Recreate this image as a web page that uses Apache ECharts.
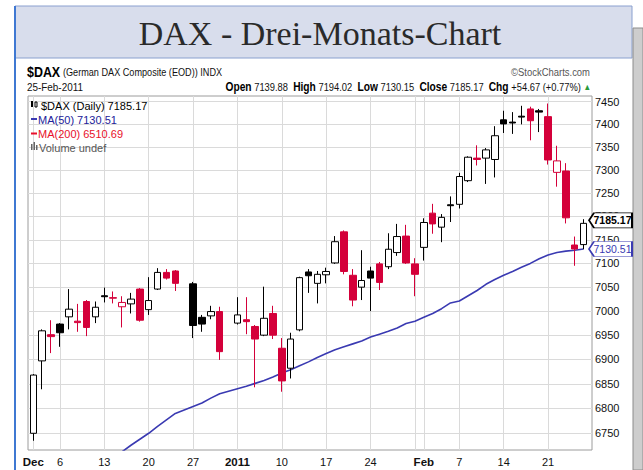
<!DOCTYPE html>
<html>
<head>
<meta charset="utf-8">
<script src="https://cdn.jsdelivr.net/npm/echarts@6/dist/echarts.min.js"></script>
<style>
  html, body { margin: 0; padding: 0; background: #fff; }
  #chart { width: 643px; height: 470px; }
</style>
</head>
<body>
<div id="chart"></div>
<script>
// trading slots (Dec 24 and Dec 31 have no bar)
const dates = ['2010-12-01', '2010-12-02', '2010-12-03', '2010-12-06', '2010-12-07', '2010-12-08', '2010-12-09', '2010-12-10',
  '2010-12-13', '2010-12-14', '2010-12-15', '2010-12-16', '2010-12-17', '2010-12-20', '2010-12-21', '2010-12-22', '2010-12-23',
  '2010-12-24', '2010-12-27', '2010-12-28', '2010-12-29', '2010-12-30', '2010-12-31', '2011-01-03', '2011-01-04', '2011-01-05',
  '2011-01-06', '2011-01-07', '2011-01-10', '2011-01-11', '2011-01-12', '2011-01-13', '2011-01-14', '2011-01-17', '2011-01-18',
  '2011-01-19', '2011-01-20', '2011-01-21', '2011-01-24', '2011-01-25', '2011-01-26', '2011-01-27', '2011-01-28', '2011-01-31',
  '2011-02-01', '2011-02-02', '2011-02-03', '2011-02-04', '2011-02-07', '2011-02-08', '2011-02-09', '2011-02-10', '2011-02-11',
  '2011-02-14', '2011-02-15', '2011-02-16', '2011-02-17', '2011-02-18', '2011-02-21', '2011-02-22', '2011-02-23', '2011-02-24',
  '2011-02-25']

const open = [6750, 6897, 6951, 6973, 6988, 6979, 7020, 6988, 7032, 7028, 7009, 7015, 7046, 7003, 7046, 7081, 7084,
  null, 7057, 6987, 6990, 6999, null,
  6975, 6982, 6968, 6950, 6995, 6923, 6882, 6961, 7082, 7058, 7076, 7101, 7167, 7075, 7050, 7084, 7099, 7093, 7123, 7158, 7099,
  7134, 7207, 7177, 7225, 7226, 7277, 7326, 7326, 7323, 7410, 7405, 7418, 7434, 7430, 7417, 7295, 7298, 7139, 7139.88]
const high = [6870, 6962, 6981, 6975, 7046, 7015, 7023, 7020, 7049, 7041, 7031, 7038, 7048, 7071, 7090, 7088, 7086,
  null, 7061, 6992, 7011, 7009, null,
  7029, 7029, 6971, 7051, 7011, 6944, 6955, 7072, 7088, 7084, 7091, 7158, 7170, 7088, 7128, 7093, 7103, 7164, 7184, 7182, 7111,
  7196, 7227, 7205, 7243, 7294, 7330, 7354, 7348, 7396, 7430, 7427, 7441, 7439, 7434, 7446, 7353, 7315, 7157, 7194.02]
const low = [6735, 6839, 6913, 6926, 6962, 6957, 6948, 6975, 7018, 7016, 6966, 6995, 6978, 6992, 7044, 7066, 7042,
  null, 6944, 6957, 6983, 6899, null,
  6972, 6952, 6843, 6948, 6942, 6834, 6861, 6958, 7038, 7016, 7058, 7099, 7077, 7010, 7023, 7000, 7044, 7088, 7116, 7099, 7031,
  7106, 7163, 7145, 7188, 7217, 7274, 7310, 7270, 7284, 7381, 7379, 7400, 7365, 7383, 7312, 7264, 7185, 7095, 7130.15]
const close = [6868, 6959, 6947, 6955, 7004, 6976, 6966, 7008, 7030, 7027, 7018, 7025, 6981, 7022, 7081, 7069, 7058,
  null, 6970, 6973, 6999, 6916, null,
  6992, 6978, 6942, 6985, 6950, 6856, 6942, 7070, 7074, 7077, 7083, 7146, 7083, 7023, 7064, 7069, 7060, 7130, 7157, 7101, 7077,
  7187, 7184, 7198, 7223, 7286, 7328, 7323, 7344, 7375, 7401, 7403, 7416, 7408, 7427, 7322, 7320, 7197, 7130.5, 7185.17]
const ma50 = [null, null, null, null, null, null, null, null, null, null, 6713, 6726, 6738, 6750, 6764, 6777, 6790,
  null, 6804, 6811, 6821, 6830, null,
  6840, 6845, 6851, 6857, 6864, 6872, 6879, 6887, 6895, 6904, 6912, 6920, 6926, 6932, 6938, 6946, 6952, 6958, 6965, 6974, 6979,
  6987, 6995, 7005, 7017, 7021, 7032, 7043, 7056, 7066, 7075, 7083, 7092, 7100, 7110, 7118, 7123, 7126, 7128, 7130.51]
const ma200Last = 6510.69

const yTicks = [6750, 6800, 6850, 6900, 6950, 7000, 7050, 7100, 7150, 7200, 7250, 7300, 7350, 7400, 7450]
const gridDates = ['2010-12-01', '2010-12-06', '2010-12-13', '2010-12-20', '2010-12-27', '2011-01-03', '2011-01-10',
  '2011-01-17', '2011-01-24', '2011-01-31', '2011-02-01', '2011-02-07', '2011-02-14', '2011-02-21']
const tickDates = ['2010-12-01', '2010-12-06', '2010-12-13', '2010-12-20', '2010-12-27', '2011-01-03', '2011-01-10',
  '2011-01-17', '2011-01-24', '2011-02-01', '2011-02-07', '2011-02-14', '2011-02-21']
const tickLabels = ['Dec', '6', '13', '20', '27', '2011', '10', '17', '24', 'Feb', '7', '14', '21']
const boldLabels = ['Dec', '2011', 'Feb']

const RED = '#d4003a'
const BLUE = '#3a3ab2'
const sans = '"Liberation Sans", Arial, sans-serif'

const last = dates.length - 1
const chg = close[last] - close[last - 1]
const chgPct = chg / close[last - 1] * 100

const labelAt = {}
tickDates.forEach((d, k) => { labelAt[dates.indexOf(d)] = tickLabels[k] })

// stockcharts colouring: black/red against previous close, filled when close < open
const candles = []
dates.forEach((d, i) => {
  if (open[i] == null) return
  const prev = i > 0 ? close[i - 1] : null
  const edge = prev == null || close[i] >= prev ? '#000' : RED
  const fill = close[i] < open[i] ? edge : '#fff'
  candles.push({
    value: [i, open[i], close[i], low[i], high[i]],
    itemStyle: { color: fill, color0: fill, borderColor: edge, borderColor0: edge }
  })
})
const maLine = []
dates.forEach((d, i) => { if (ma50[i] != null) maLine.push([i, ma50[i]]) })

const xMin = -0.6
const xMax = 62.95

const chart = echarts.init(document.getElementById('chart'), null, { renderer: 'svg' })
const option = {
  animation: false,
  grid: {
    left: 28,
    top: 96,
    right: 51,
    bottom: 20,
    show: true,
    backgroundColor: '#fff',
    borderColor: '#9c9c9c',
    borderWidth: 1
  },
  xAxis: {
    type: 'value',
    min: xMin,
    max: xMax,
    axisLine: { show: false },
    axisTick: { show: false, customValues: gridDates.map(d => dates.indexOf(d)) },
    axisLabel: {
      customValues: tickDates.map(d => dates.indexOf(d)),
      margin: 6,
      color: '#111',
      fontSize: 11,
      fontFamily: sans,
      formatter: v => {
        const t = labelAt[Math.round(v)] || ''
        return boldLabels.includes(t) ? '{b|' + t + '}' : t
      },
      rich: { b: { fontWeight: 'bold', fontSize: 11.5, fontFamily: sans, color: '#111' } }
    },
    splitLine: { lineStyle: { color: '#dadada', width: 1 } }
  },
  yAxis: {
    type: 'log',
    logBase: 10,
    position: 'right',
    min: 6716.5,
    max: 7462.7,
    axisLine: { show: false },
    axisTick: { show: false, customValues: yTicks },
    axisLabel: {
      customValues: yTicks,
      margin: 3,
      color: '#111',
      fontSize: 11,
      fontFamily: sans,
      formatter: v => String(Math.round(v))
    },
    splitLine: { lineStyle: { color: '#dadada', width: 1 } }
  },
  series: [{
    type: 'line',
    data: maLine,
    showSymbol: false,
    clip: true,
    lineStyle: { color: BLUE, width: 1.6 },
    z: 3
  }, {
    type: 'candlestick',
    data: candles,
    encode: { x: 0, y: [1, 2, 3, 4] },
    barWidth: 7,
    itemStyle: { borderWidth: 1 },
    z: 4,
    markPoint: {
      symbol: 'path://M0,7 L5,0 L43,0 L43,14 L5,14 Z',
      symbolSize: [43, 15],
      symbolKeepAspect: false,
      animation: false,
      z: 10,
      data: [{
        coord: [xMax, close[last]],
        symbolOffset: [18.5, -3],
        itemStyle: { color: '#fff', borderColor: '#000', borderWidth: 1.2 },
        label: {
          show: true,
          formatter: close[last].toFixed(2),
          offset: [2, 0],
          color: '#000',
          fontWeight: 'bold',
          fontSize: 10.5,
          fontFamily: sans
        }
      }, {
        coord: [xMax, ma50[last]],
        symbolOffset: [18.5, 0],
        itemStyle: { color: '#fff', borderColor: BLUE, borderWidth: 1.2 },
        label: {
          show: true,
          formatter: ma50[last].toFixed(2),
          offset: [2, 0],
          color: BLUE,
          fontSize: 10.5,
          fontFamily: sans
        }
      }]
    }
  }],
  graphic: [
    // frame and title box
    { type: 'rect', z: -10, shape: { x: 15, y: 6, width: 617, height: 52 }, style: { fill: '#d8ddec', stroke: '#8aa0cf', lineWidth: 1 } },
    { type: 'rect', z: -10, shape: { x: 633, y: 28, width: 10, height: 442 }, style: { fill: '#cdcdcd', stroke: '#8c8c8c', lineWidth: 1 } },
    { type: 'line', z: -10, shape: { x1: 15, y1: 6, x2: 15, y2: 470 }, style: { stroke: '#3f78d2', lineWidth: 2 } },
    {
      type: 'text', x: 320, y: 33,
      style: { text: 'DAX - Drei-Monats-Chart', fill: '#2a2a2a', font: '34px "Liberation Serif", "DejaVu Serif", serif', textAlign: 'center', textVerticalAlign: 'middle' }
    },
    // header, squeezed to look like the narrow stockcharts font
    {
      type: 'text', x: 27, y: 72, scaleX: 0.83,
      style: {
        text: '{b|$DAX} {n|(German DAX Composite (EOD)) INDX}',
        textVerticalAlign: 'middle',
        rich: {
          b: { fontWeight: 'bold', fontSize: 15, fontFamily: sans, fill: '#000' },
          n: { fontSize: 11, fontFamily: sans, fill: '#111' }
        }
      }
    },
    {
      type: 'text', x: 590, y: 72, scaleX: 0.86,
      style: { text: '©StockCharts.com', fill: '#555', font: '11px ' + sans, textAlign: 'right', textVerticalAlign: 'middle' }
    },
    {
      type: 'text', x: 27, y: 87, scaleX: 0.9,
      style: { text: '25-Feb-2011', fill: '#111', font: '11px ' + sans, textVerticalAlign: 'middle' }
    },
    {
      type: 'text', x: 591, y: 87, scaleX: 0.85,
      style: {
        text: '{b|Open} ' + open[last].toFixed(2) + '  {b|High} ' + high[last].toFixed(2) + '  {b|Low} ' + low[last].toFixed(2) +
          '  {b|Close} ' + close[last].toFixed(2) + '  {b|Chg} +' + chg.toFixed(2) + ' (+' + chgPct.toFixed(2) + '%) {g|▲}',
        textAlign: 'right',
        textVerticalAlign: 'middle',
        font: '11px ' + sans,
        fill: '#111',
        rich: {
          b: { fontWeight: 'bold', fontSize: 12, fontFamily: sans, fill: '#000' },
          g: { fontSize: 9, fill: '#2a9a3a' }
        }
      }
    },
    // legend inside plot
    { type: 'rect', z: 5, shape: { x: 31, y: 101, width: 2, height: 6 }, style: { fill: '#000' } },
    { type: 'rect', z: 5, shape: { x: 35, y: 102, width: 2, height: 5 }, style: { fill: '#fff', stroke: '#000', lineWidth: 1 } },
    {
      type: 'text', x: 41, y: 105.5, z: 5,
      style: { text: '$DAX (Daily) ' + close[last].toFixed(2), fill: '#000', font: '11px ' + sans, textVerticalAlign: 'middle' }
    },
    { type: 'line', z: 5, shape: { x1: 31, y1: 119, x2: 37, y2: 119 }, style: { stroke: BLUE, lineWidth: 2 } },
    {
      type: 'text', x: 38, y: 119.5, z: 5,
      style: { text: 'MA(50) ' + ma50[last].toFixed(2), fill: '#22229a', font: '11px ' + sans, textVerticalAlign: 'middle' }
    },
    { type: 'line', z: 5, shape: { x1: 31, y1: 133.5, x2: 37, y2: 133.5 }, style: { stroke: '#e8102a', lineWidth: 2 } },
    {
      type: 'text', x: 38, y: 134, z: 5,
      style: { text: 'MA(200) ' + ma200Last.toFixed(2), fill: '#e8102a', font: '11px ' + sans, textVerticalAlign: 'middle' }
    },
    { type: 'rect', z: 5, shape: { x: 31, y: 144, width: 1.5, height: 6 }, style: { fill: '#666' } },
    { type: 'rect', z: 5, shape: { x: 33.5, y: 142, width: 1.5, height: 8 }, style: { fill: '#666' } },
    { type: 'rect', z: 5, shape: { x: 36, y: 145, width: 1.5, height: 5 }, style: { fill: '#666' } },
    {
      type: 'text', x: 39, y: 147.5, z: 5,
      style: { text: 'Volume undef', fill: '#555', font: '11px ' + sans, textVerticalAlign: 'middle' }
    }
  ]
}
chart.setOption(option)
</script>
</body>
</html>
